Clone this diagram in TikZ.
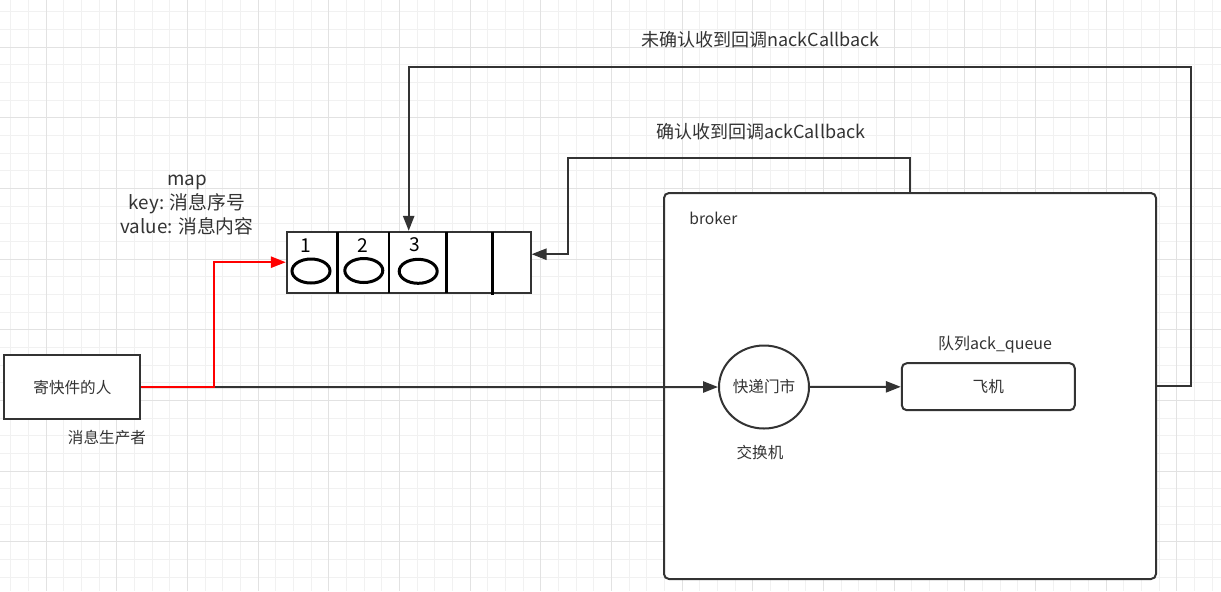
\documentclass[tikz,border=0pt]{standalone}
\usepackage{fontspec}
\setmainfont{Noto Sans CJK SC}
\usetikzlibrary{arrows.meta,positioning,shapes.geometric}
\definecolor{ackline}{HTML}{333333}
\definecolor{ackred}{HTML}{FF0000}
\definecolor{gridminor}{HTML}{F1F1F1}
\definecolor{gridmajor}{HTML}{E2E2E2}

\begin{document}
\begin{tikzpicture}[x=0.5pt,y=-0.5pt,
  ackbox/.style={draw=ackline,fill=white,line width=1pt,text=ackline,
    font=\fontsize{7.8}{9}\selectfont,inner sep=0pt},
  ackflow/.style={draw=ackline,line width=1pt,
    -{Triangle[length=7.5pt,width=5.6pt]}},
  acklabel/.style={text=ackline,font=\fontsize{7.8}{9}\selectfont,
    inner sep=0pt},
  acktitle/.style={text=ackline,font=\fontsize{9}{11}\selectfont,
    inner sep=0pt},
  ackoval/.style={draw=black,line width=1.5pt,ellipse,fill=white,
    minimum width=19pt,minimum height=12pt,inner sep=0pt},
  ackseq/.style={font=\fontsize{9.6}{11}\selectfont,inner sep=0pt},
  ackdivider/.style={draw=black,line width=1.4pt}
]
  \useasboundingbox (0,0) rectangle (1221,591);
  % canvas grid
  \foreach \i in {0,...,68}
    \draw[gridminor,line width=0.5pt] ({10.7+\i*17.67},0) -- ({10.7+\i*17.67},591);
  \foreach \i in {0,...,32}
    \draw[gridminor,line width=0.5pt] (0,{11.7+\i*17.67}) -- (1221,{11.7+\i*17.67});
  \foreach \i in {2,6,...,66}
    \draw[gridmajor,line width=0.5pt] ({10.7+\i*17.67},0) -- ({10.7+\i*17.67},591);
  \foreach \i in {2,6,...,30}
    \draw[gridmajor,line width=0.5pt] (0,{11.7+\i*17.67}) -- (1221,{11.7+\i*17.67});

  % producer
  \node[ackbox,minimum width=68pt,minimum height=32pt] (sender) at (72.4,387.2)
    {寄快件的人};
  \node[acklabel] (senderrole) at (107,438) {消息生产者};

  % map of unconfirmed messages
  \node[acktitle,align=center,font=\fontsize{9.4}{11.8}\selectfont]
    (maplabel) at (187,205) {map\\key: 消息序号\\value: 消息内容};
  \node[draw=ackline,fill=white,line width=0.9pt,minimum width=122pt,
    minimum height=30.5pt,inner sep=0pt] (mapbox) at (408.7,262.2) {};
  \foreach \dx in {337.3,389,446.7}
    \draw[ackdivider] (\dx,231.7) -- (\dx,292.7);
  \draw[ackdivider] (492.3,231.7) -- (492.3,295);
  \node[ackoval] (msg1) at (311,271) {};
  \node[ackoval] (msg2) at (363.8,270.5) {};
  \node[ackoval] (msg3) at (418.2,271.3) {};
  \node[ackseq] (seq1) at (306,246) {1};
  \node[ackseq] (seq2) at (362.7,246) {2};
  \node[ackseq] (seq3) at (415,244.8) {3};

  % broker
  \node[ackbox,rounded corners=2.5pt,minimum width=246pt,minimum height=193pt]
    (broker) at (910,386) {};
  \node[acklabel,anchor=west] (brokername) at (689,218) {broker};
  \node[ackbox,ellipse,minimum width=45pt,minimum height=41.5pt]
    (exchange) at (764,387) {快递门市};
  \node[acklabel] (exchangename) at (760,453) {交换机};
  \node[ackbox,rounded corners=2.5pt,minimum width=86.5pt,minimum height=23.5pt]
    (queue) at (988.3,386.7) {飞机};
  \node[acklabel,font=\fontsize{8}{9}\selectfont] (queuename) at (995,344.5)
    {队列ack\_queue};

  % callbacks
  \node[acktitle] (nacklabel) at (760.7,40) {未确认收到回调nackCallback};
  \node[acktitle] (acklabel) at (760.7,132) {确认收到回调ackCallback};

  \coordinate (split) at (213.6,387.2);
  \coordinate (nackturn) at (1190.5,66.7);
  \coordinate (ackturn) at (568,158.3);

  \draw[ackflow] (sender.east) -- (exchange.west);
  \draw[ackflow,draw=ackred] (sender.east) -- (split) |- (mapbox.west);
  \draw[ackflow] (exchange) -- (queue);
  \draw[ackflow] (broker.east) -| (nackturn) -| (mapbox.north);
  \draw[ackflow] (broker.north) |- (ackturn) |- ([yshift=4pt]mapbox.east);
\end{tikzpicture}
\end{document}
